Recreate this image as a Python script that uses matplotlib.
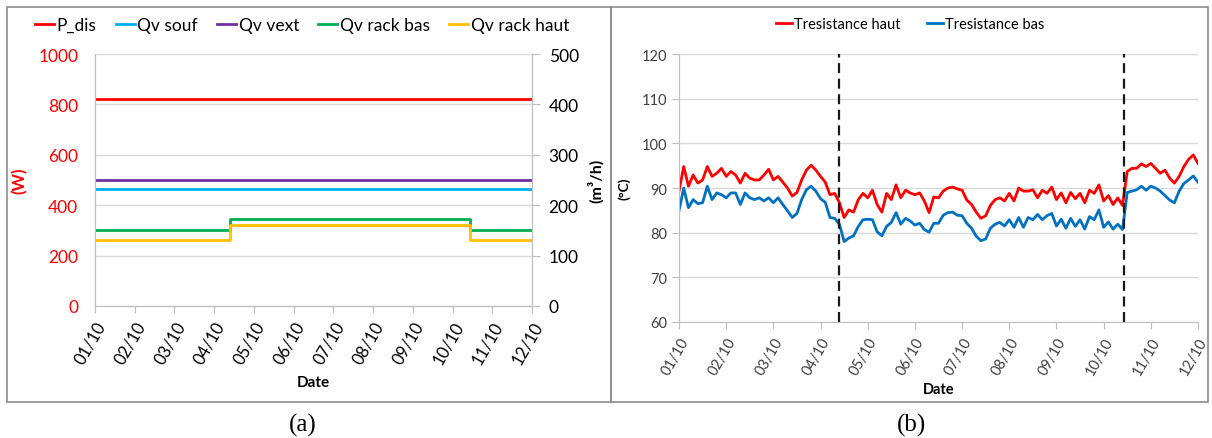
import numpy as np
import matplotlib
matplotlib.use("Agg")
from matplotlib import pyplot as plt
from matplotlib.patches import Rectangle

plt.rcParams['font.family'] = ['Lato', 'DejaVu Sans']

# dates (day 0 = 01/10)
date_labels = ['01/10', '02/10', '03/10', '04/10', '05/10', '06/10',
               '07/10', '08/10', '09/10', '10/10', '11/10', '12/10']

# panel (a): power (W) and flow rates (m3/h), piecewise constant
step_times = [0, 3.4, 9.45, 11]
p_dis = [820, 820, 820, 820]
qv_souf = [232, 232, 232, 232]
qv_vext = [250, 250, 250, 250]
qv_rack_bas = [150, 172, 150, 150]
qv_rack_haut = [130, 160, 130, 130]

# panel (b): resistance temperatures (degC), sampled every 0.1 day
t_res = np.round(np.arange(0, 11.01, 0.1), 2)
t_haut = [89.3, 94.8, 90.4, 92.9, 91.1, 91.8, 94.8, 92.6, 93.3, 94.4,
          92.6, 93.7, 92.9, 91.1, 93.3, 92.2, 91.8, 91.8, 92.9, 94.2,
          91.8, 92.6, 91.3, 90.0, 88.2, 89.0, 91.8, 94.0, 95.1, 94.0,
          92.6, 91.3, 88.5, 88.8, 86.7, 83.4, 85.1, 84.6, 87.4, 88.8,
          87.8, 89.5, 86.3, 84.6, 88.8, 87.4, 90.7, 87.8, 89.5, 88.9,
          88.5, 88.9, 87.1, 84.5, 88.0, 87.8, 89.3, 90.0, 90.2, 89.8,
          89.5, 87.3, 86.3, 84.6, 83.2, 83.8, 86.1, 87.4, 87.8, 87.1,
          88.8, 87.1, 90.0, 89.3, 89.3, 89.6, 87.8, 89.5, 88.8, 90.2,
          87.4, 88.9, 86.7, 89.0, 87.6, 88.8, 86.7, 89.5, 88.8, 90.7,
          87.1, 88.3, 86.3, 87.8, 86.1, 93.7, 94.4, 94.4, 95.4, 94.8,
          95.5, 94.4, 93.3, 94.0, 92.2, 91.1, 92.6, 94.8, 96.4, 97.4,
          95.5]
t_bas = [84.9, 90.0, 85.6, 87.4, 86.5, 86.7, 90.4, 87.4, 88.9, 88.5,
         87.8, 88.9, 88.9, 86.3, 88.9, 87.8, 87.4, 87.8, 87.1, 87.8,
         86.7, 87.8, 86.3, 84.9, 83.4, 84.3, 87.4, 89.6, 90.4, 89.3,
         87.6, 86.8, 83.4, 83.2, 81.9, 78.0, 78.8, 79.3, 81.4, 82.9,
         83.0, 82.9, 80.2, 79.3, 81.4, 82.3, 84.5, 81.9, 83.2, 82.6,
         81.7, 82.1, 80.7, 80.1, 82.1, 82.1, 83.9, 84.5, 84.6, 83.9,
         83.8, 82.1, 81.0, 79.2, 78.2, 78.6, 81.0, 81.9, 82.3, 81.5,
         82.9, 81.2, 83.4, 81.2, 83.4, 82.9, 84.1, 82.9, 83.8, 84.3,
         81.5, 83.0, 81.0, 83.2, 81.4, 82.9, 80.8, 83.6, 82.9, 85.1,
         81.2, 82.4, 80.8, 81.9, 80.7, 89.0, 89.3, 89.6, 90.4, 89.5,
         90.4, 90.0, 89.3, 88.3, 87.3, 86.7, 89.3, 91.0, 91.8, 92.7,
         91.3]
transitions = [3.4, 9.44]

W, H = 1212, 439
fig = plt.figure(figsize=(W / 100, H / 100), dpi=100)

gridc = '#d9d9d9'
axc = '#bfbfbf'

# frames around the two panels
for x0, x1 in [(7, 611), (611, 1208)]:
    fig.patches.append(Rectangle((x0 / W, 1 - 403 / H), (x1 - x0) / W, (403 - 8) / H,
                                 transform=fig.transFigure, fill=False,
                                 edgecolor='#8c8c8c', lw=1.2))


def style_xaxis(ax, size):
    ax.set_xlim(0, 11)
    ax.set_xticks(range(len(date_labels)))
    ax.set_xticklabels(date_labels, rotation=60, ha='right', rotation_mode='anchor')
    ax.tick_params(axis='x', length=5, color=axc, pad=4, labelsize=size)
    ax.spines['top'].set_visible(False)
    ax.spines['bottom'].set_color(axc)
    ax.spines['left'].set_color(axc)
    ax.spines['right'].set_color(axc)


# ---- (a)
ax1 = fig.add_axes([95 / W, 1 - 307 / H, (532 - 95) / W, (307 - 55) / H])
ax2 = ax1.twinx()
ax1.set_ylim(0, 1000)
ax1.set_yticks(range(0, 1001, 200))
ax2.set_ylim(0, 500)
ax2.set_yticks(range(0, 501, 100))
ax1.yaxis.grid(True, color=gridc, lw=1)
ax1.set_axisbelow(True)
style_xaxis(ax1, 12)
ax1.set_xlabel('Date', fontweight='bold', fontsize=11, labelpad=6)
ax2.spines['top'].set_visible(False)
ax2.spines['right'].set_color(axc)
ax2.spines['left'].set_color(axc)
ax2.spines['bottom'].set_color(axc)
ax1.tick_params(axis='y', length=0, labelcolor='#ff0000', labelsize=12.5, pad=12)
ax2.tick_params(axis='y', length=6, color=axc, labelsize=12.5, pad=6)
ax1.set_ylabel('(W)', color='#ff0000', fontweight='bold', fontsize=12, labelpad=8)
ax2.set_ylabel('(m³/h)', fontweight='bold', fontsize=11.5, labelpad=6)

lw = 2.0
l1, = ax1.step(step_times, p_dis, where='post', color='#ff0000', lw=lw, label='P_dis')
l2, = ax2.step(step_times, qv_souf, where='post', color='#00b0f0', lw=lw, label='Qv souf')
l3, = ax2.step(step_times, qv_vext, where='post', color='#7030a0', lw=lw, label='Qv vext')
l4, = ax2.step(step_times, qv_rack_bas, where='post', color='#00b050', lw=lw, label='Qv rack bas')
l5, = ax2.step(step_times, qv_rack_haut, where='post', color='#ffc000', lw=lw, label='Qv rack haut')
fig.legend(handles=[l1, l2, l3, l4, l5], loc='center', bbox_to_anchor=(302 / W, 1 - 26 / H),
           ncol=5, frameon=False, fontsize=12.5, handlelength=1.1, handletextpad=0.15,
           columnspacing=1.1)

# ---- (b)
bx = fig.add_axes([679 / W, 1 - 323 / H, (1198 - 679) / W, (323 - 55) / H])
bx.set_ylim(60, 120)
bx.set_yticks(range(60, 121, 10))
bx.yaxis.grid(True, color=gridc, lw=1)
bx.set_axisbelow(True)
style_xaxis(bx, 10.5)
bx.set_xlabel('Date', fontweight='bold', fontsize=10.5, labelpad=4)
bx.spines['right'].set_visible(False)
bx.tick_params(axis='y', length=5, color=axc, labelsize=10.5, labelcolor='#404040')
bx.tick_params(axis='x', labelcolor='#404040')
bx.set_ylabel('(°C)', fontweight='bold', fontsize=10, labelpad=8)

m1, = bx.plot(t_res, t_haut, color='#ff0000', lw=lw, label='Tresistance haut')
m2, = bx.plot(t_res, t_bas, color='#0070c0', lw=lw, label='Tresistance bas')
for xt in transitions:
    bx.axvline(xt, color='#1a1a1a', lw=1.6, ls=(0, (4.5, 2.5)))
fig.legend(handles=[m1, m2], loc='center', bbox_to_anchor=(910 / W, 1 - 25 / H),
           ncol=2, frameon=False, fontsize=10.5, handlelength=1.1, handletextpad=0.15,
           columnspacing=1.8)

# captions
fig.text(303 / W, 1 - 425 / H, '(a)', family='Liberation Serif', fontsize=18,
         ha='center', va='center')
fig.text(912 / W, 1 - 425 / H, '(b)', family='Liberation Serif', fontsize=18,
         ha='center', va='center')

fig.savefig('out.png', dpi=100)
